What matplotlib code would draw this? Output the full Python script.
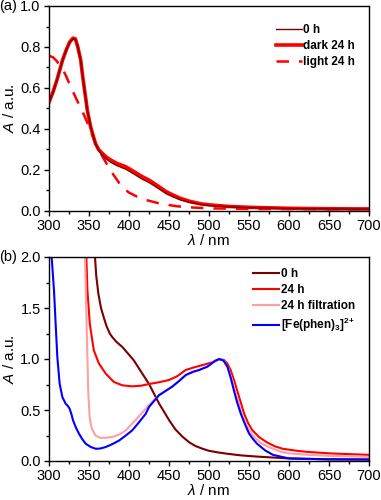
import matplotlib
matplotlib.use("Agg")
import matplotlib.pyplot as plt
from matplotlib.ticker import MultipleLocator

plt.rcParams["font.family"] = ["Liberation Sans", "DejaVu Sans"]
plt.rcParams["mathtext.fontset"] = "custom"
plt.rcParams["mathtext.rm"] = "Liberation Sans"
plt.rcParams["mathtext.it"] = "Liberation Sans:italic"
plt.rcParams["mathtext.bf"] = "Liberation Sans:bold"

# panel (a): absorbance
wl_a = [300, 305, 310, 317, 322, 326, 330, 333, 336, 339.6, 342, 345, 348, 352, 355, 358,
        362, 366.7, 372, 377, 385, 396, 405, 416.7, 425, 435, 447, 455, 464, 476, 490, 500,
        525, 550, 600, 650, 700]
dark_24h = [0.53, 0.58, 0.64, 0.737, 0.79, 0.825, 0.843, 0.84, 0.80, 0.737, 0.66, 0.574,
            0.49, 0.411, 0.37, 0.33, 0.30, 0.281, 0.262, 0.249, 0.232, 0.216, 0.195, 0.167,
            0.151, 0.125, 0.093, 0.078, 0.062, 0.047, 0.035, 0.03, 0.022, 0.018, 0.013,
            0.011, 0.01]
zero_h_a = [0.53, 0.58, 0.64, 0.737, 0.79, 0.823, 0.84, 0.837, 0.80, 0.737, 0.66, 0.574,
            0.49, 0.411, 0.37, 0.328, 0.295, 0.272, 0.252, 0.238, 0.221, 0.204, 0.183,
            0.155, 0.139, 0.114, 0.083, 0.069, 0.054, 0.041, 0.031, 0.027, 0.02, 0.016,
            0.012, 0.01, 0.009]
wl_light = [300, 305, 310, 315, 320, 329, 335, 342, 348, 354, 360, 367, 375, 380, 388, 395,
            400, 410, 420, 430, 440, 460, 480, 500, 550, 700]
light_24h = [0.757, 0.75, 0.73, 0.70, 0.67, 0.59, 0.54, 0.484, 0.43, 0.37, 0.315, 0.265,
             0.21, 0.18, 0.135, 0.105, 0.09, 0.07, 0.055, 0.045, 0.035, 0.023, 0.017,
             0.013, 0.01, 0.008]

# panel (b)
wl_0h = [357.5, 359, 361.7, 365, 368.75, 372, 376, 379, 384, 391.7, 398, 406, 416.7, 425,
         437.5, 450, 458, 466.7, 475, 483, 492, 500, 512, 525, 540, 562.5, 600, 650, 700]
zero_h_b = [2.0, 1.82, 1.64, 1.50, 1.40, 1.32, 1.25, 1.216, 1.17, 1.118, 1.06, 0.987,
            0.856, 0.755, 0.565, 0.402, 0.31, 0.239, 0.185, 0.147, 0.12, 0.10, 0.083,
            0.069, 0.055, 0.042, 0.025, 0.017, 0.014]
wl_24h = [346.7, 348, 351, 356, 362.5, 371, 381, 391.7, 404, 415, 425, 437.5, 450, 460,
          470.8, 480, 487.5, 500, 507, 512.5, 518.75, 523, 527, 531, 535, 539.5, 543.75,
          549, 554, 562.5, 572, 582, 592, 610, 622, 650, 700]
h24 = [2.0, 1.673, 1.346, 1.085, 0.954, 0.856, 0.775, 0.742, 0.732, 0.738, 0.755, 0.772,
       0.794, 0.83, 0.892, 0.915, 0.931, 0.958, 0.975, 0.997, 0.99, 0.955, 0.892, 0.80,
       0.696, 0.58, 0.467, 0.37, 0.304, 0.235, 0.185, 0.145, 0.12, 0.10, 0.09, 0.075, 0.06]
wl_filt = [345, 347, 349, 350.8, 353, 358, 364.6, 372, 379, 388, 396, 408, 416, 425, 437.5,
           454, 471, 487.5, 498, 508, 514, 519, 524, 529, 534, 538, 542, 546, 551, 557,
           565, 575, 590, 600, 625, 650, 700]
filtration = [2.0, 1.346, 0.69, 0.43, 0.33, 0.25, 0.226, 0.228, 0.235, 0.26, 0.30, 0.40,
              0.47, 0.548, 0.645, 0.729, 0.843, 0.892, 0.925, 0.984, 1.0, 0.98, 0.91, 0.79,
              0.65, 0.54, 0.44, 0.36, 0.29, 0.23, 0.175, 0.135, 0.09, 0.075, 0.06, 0.05,
              0.04]
wl_fe = [303.3, 306.25, 308.3, 310.4, 313.3, 316.7, 320.8, 323.5, 325.8, 328, 330, 333.5,
         337.5, 341.5, 345.8, 352, 358.3, 364, 370.8, 379, 387.5, 396, 404, 412, 421, 425,
         437.5, 454, 462, 471, 480, 487.5, 498, 508, 513, 518, 523, 527, 531, 535, 539.6,
         545, 550, 555, 560, 570, 580, 600, 650, 700]
fe_phen = [2.0, 1.673, 1.346, 1.02, 0.758, 0.627, 0.562, 0.54, 0.513, 0.46, 0.40, 0.33,
           0.268, 0.215, 0.17, 0.138, 0.12, 0.122, 0.137, 0.165, 0.20, 0.25, 0.30, 0.375,
           0.464, 0.53, 0.645, 0.729, 0.78, 0.843, 0.875, 0.892, 0.925, 0.984, 1.0, 0.985,
           0.925, 0.82, 0.696, 0.58, 0.467, 0.36, 0.27, 0.215, 0.17, 0.105, 0.06, 0.025,
           0.016, 0.015]

maroon = "#7a0000"
red = "#ff0000"
pink = "#ffa0a0"
blue = "#0000ff"

fig = plt.figure(figsize=(3.81, 5.0), dpi=100)
ax1 = fig.add_axes([49 / 381, 1 - 211 / 500, 320 / 381, 205 / 500])
ax2 = fig.add_axes([49 / 381, 1 - 461 / 500, 320 / 381, 204 / 500])

ax1.plot(wl_a, dark_24h, color=red, lw=2.6, label="dark 24 h", zorder=2)
ax1.plot(wl_a, zero_h_a, color=maroon, lw=1.0, label="0 h", zorder=3)
ax1.plot(wl_light, light_24h, color=red, lw=1.8, ls=(0, (5, 4)), label="light 24 h", zorder=2)
h, l = ax1.get_legend_handles_labels()
order = [1, 0, 2]
ax1.legend([h[i] for i in order], [l[i] for i in order], loc="upper right",
           bbox_to_anchor=(0.97, 0.935), frameon=False, prop={"weight": "bold", "size": 8.5},
           handlelength=2.2, handletextpad=0.1, labelspacing=0.35, borderaxespad=0)
ax1.set_ylim(0, 1.0)
ax1.yaxis.set_major_locator(MultipleLocator(0.2))
ax1.yaxis.set_minor_locator(MultipleLocator(0.1))

ax2.plot(wl_0h, zero_h_b, color=maroon, lw=1.5, label="0 h")
ax2.plot(wl_24h, h24, color=red, lw=1.5, label="24 h")
ax2.plot(wl_filt, filtration, color=pink, lw=1.5, label="24 h filtration")
ax2.plot(wl_fe, fe_phen, color=blue, lw=1.5, label=r"[Fe(phen)$_\mathbf{3}$]$^\mathbf{2{+}}$")
ax2.legend(loc="upper right", bbox_to_anchor=(0.97, 0.97), frameon=False,
           prop={"weight": "bold", "size": 8.5}, handlelength=2.2, handletextpad=0.1,
           labelspacing=0.35, borderaxespad=0)
ax2.set_ylim(0, 2.0)
ax2.yaxis.set_major_locator(MultipleLocator(0.5))
ax2.yaxis.set_minor_locator(MultipleLocator(0.25))

for ax, tag in ((ax1, "(a)"), (ax2, "(b)")):
    ax.set_xlim(300, 700)
    ax.xaxis.set_major_locator(MultipleLocator(50))
    ax.xaxis.set_minor_locator(MultipleLocator(25))
    ax.tick_params(which="both", direction="out", labelsize=10.5, width=1.0, pad=2.5)
    ax.tick_params(which="major", length=3.5)
    ax.tick_params(which="minor", length=2)
    for s in ax.spines.values():
        s.set_linewidth(1.0)
    ax.set_xlabel(r"$\it{\lambda}$ / nm", fontsize=11, labelpad=0)
    ax.set_ylabel(r"$\it{A}$ / a.u.", fontsize=11, labelpad=2)
    ax.text(-0.155, 1.0, tag, transform=ax.transAxes, fontsize=10.5, ha="left", va="center")

fig.savefig("out.png", dpi=100)
